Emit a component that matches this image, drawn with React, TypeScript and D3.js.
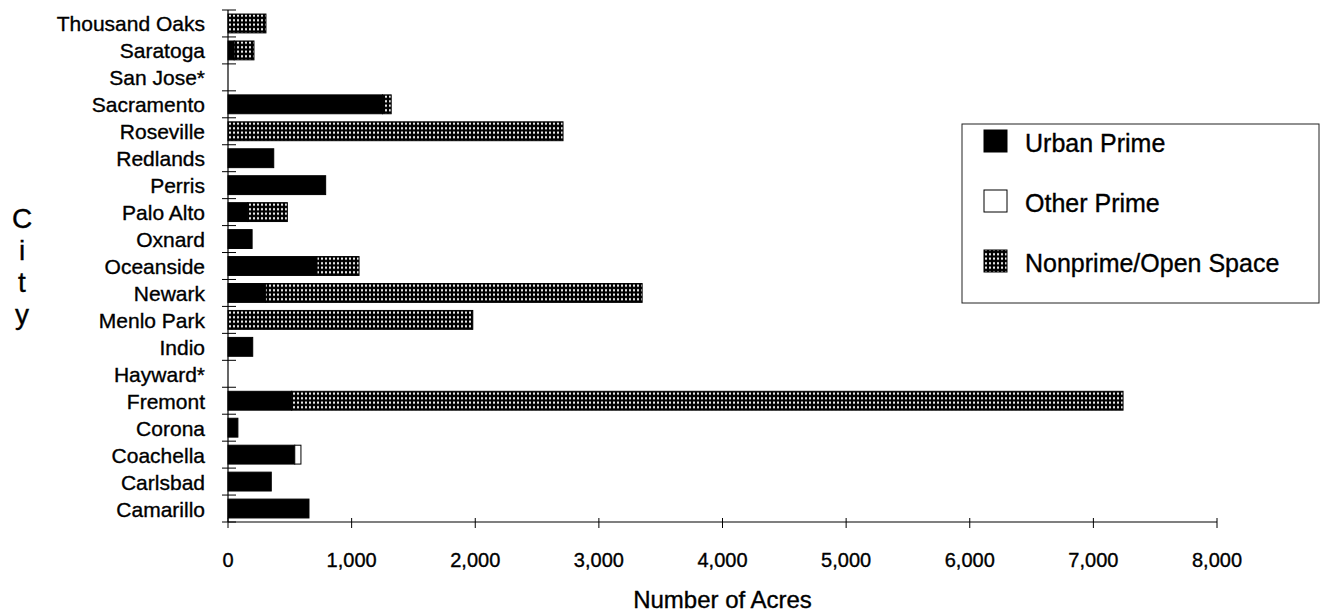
import React from "react";
import * as d3 from "d3";

const cities = [
  "Thousand Oaks", "Saratoga", "San Jose*", "Sacramento", "Roseville", "Redlands",
  "Perris", "Palo Alto", "Oxnard", "Oceanside", "Newark", "Menlo Park", "Indio",
  "Hayward*", "Fremont", "Corona", "Coachella", "Carlsbad", "Camarillo",
];
const urbanPrime = [0, 50, 0, 1250, 0, 370, 790, 160, 195, 720, 305, 0, 200, 0, 515, 80, 540, 350, 655];
const otherPrime = [0, 0, 0, 0, 0, 0, 0, 0, 0, 0, 0, 0, 0, 0, 0, 0, 50, 0, 0];
const nonprimeOpen = [307, 160, 0, 70, 2710, 0, 0, 320, 0, 340, 3045, 1980, 0, 0, 6725, 0, 0, 0, 0];

const xTicks = [0, 1000, 2000, 3000, 4000, 5000, 6000, 7000, 8000];
const seriesNames = ["Urban Prime", "Other Prime", "Nonprime/Open Space"];

const FONT = "'Liberation Sans', Arial, Helvetica, sans-serif";

export default function App() {
  const W = 1327, H = 616;
  const x0 = 228, x1 = 1217, yTop = 10, yBot = 522;
  const x = d3.scaleLinear().domain([0, 8000]).range([x0, x1]);
  const y = d3.scaleBand<string>().domain(cities).range([yTop, yBot]).paddingInner(0.3).paddingOuter(0.15);
  const step = y.step();
  const fills = ["#000", "#fff", "url(#grid)"];
  const rows = cities.map((c, i) => ({ c, vals: [urbanPrime[i], otherPrime[i], nonprimeOpen[i]] }));
  const fmt = d3.format(",");
  const ts = { stroke: "#000", strokeWidth: 0.35 };

  return (
    <svg width={W} height={H} style={{ position: "absolute", left: 0, top: 0, background: "#fff" }} fontFamily={FONT}>
      <defs>
        <pattern id="grid" width={4} height={4.5} patternUnits="userSpaceOnUse">
          <rect width={4} height={4.5} fill="#000" />
          <rect x={1} y={1.2} width={2} height={2} fill="#fff" />
        </pattern>
      </defs>
      <rect width={W} height={H} fill="#fff" />
      {rows.map((r) => {
        let acc = 0;
        return r.vals.map((v, k) => {
          if (v <= 0) return null;
          const start = acc;
          acc += v;
          return (
            <rect key={r.c + k} x={x(start)} y={y(r.c)} width={x(acc) - x(start)} height={y.bandwidth()}
              fill={fills[k]} stroke="#000" strokeWidth={1} />
          );
        });
      })}
      <line x1={x0} x2={x0} y1={yTop} y2={yBot} stroke="#000" strokeWidth={1.2} />
      {d3.range(cities.length + 1).map((i) => (
        <line key={"yt" + i} x1={x0 - 6} x2={x0 + 8} y1={yTop + i * step} y2={yTop + i * step} stroke="#000" strokeWidth={1} />
      ))}
      {cities.map((c) => (
        <text key={c} x={205} y={(y(c) as number) + y.bandwidth() / 2 + 8} textAnchor="end" fontSize={21} fill="#000" {...ts}>{c}</text>
      ))}
      <line x1={x0} x2={x1} y1={yBot} y2={yBot} stroke="#000" strokeWidth={1.2} />
      {xTicks.map((t) => (
        <g key={"xt" + t}>
          <line x1={x(t)} x2={x(t)} y1={yBot - 4} y2={yBot + 6} stroke="#000" strokeWidth={1} />
          <text x={x(t)} y={567} textAnchor="middle" fontSize={20} fill="#000" {...ts}>{fmt(t)}</text>
        </g>
      ))}
      <text x={(x0 + x1) / 2} y={608} textAnchor="middle" fontSize={24} fill="#000" {...ts}>Number of Acres</text>
      {["C", "i", "t", "y"].map((ch, i) => (
        <text key={"c" + i} x={22} y={228 + i * 32} textAnchor="middle" fontSize={28} fill="#000" {...ts}>{ch}</text>
      ))}
      <rect x={962} y={124} width={357} height={179} fill="#fff" stroke="#222" strokeWidth={1} />
      {seriesNames.map((s, k) => (
        <g key={s}>
          <rect x={984} y={130 + k * 60} width={23} height={22} fill={fills[k]} stroke="#000" strokeWidth={1} />
          <text x={1025} y={152 + k * 60} fontSize={25} fill="#000" {...ts}>{s}</text>
        </g>
      ))}
    </svg>
  );
}
